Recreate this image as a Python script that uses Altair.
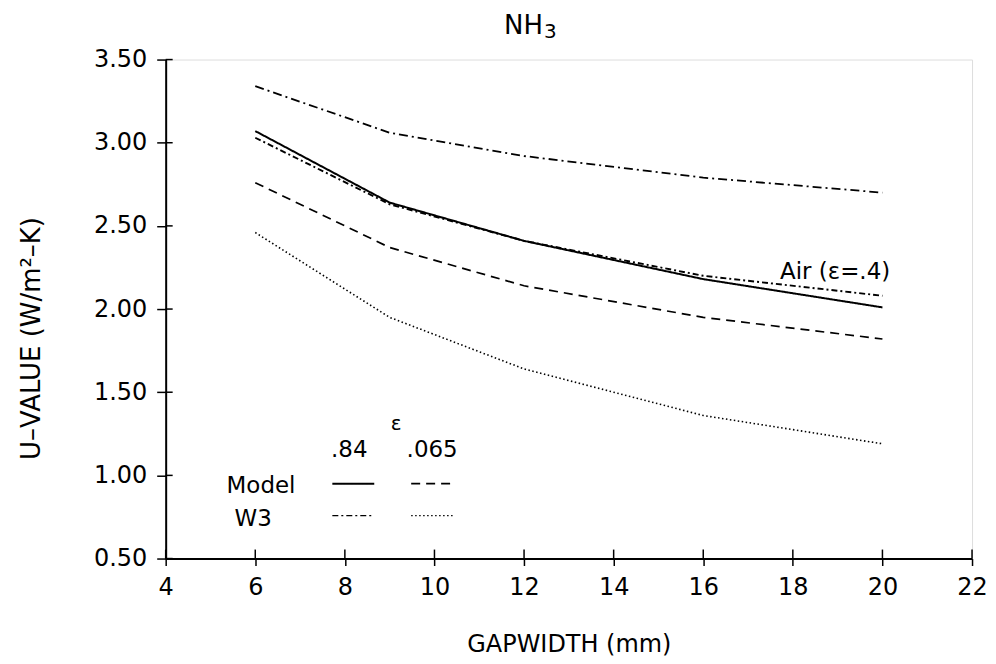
import altair as alt
import pandas as pd

# ---- data ----
gap = [6, 9, 12, 16, 20]
model_084 = [3.07, 2.64, 2.41, 2.18, 2.01]
w3_084 = [3.03, 2.63, 2.41, 2.20, 2.08]
upper_dashdot = [3.34, 3.06, 2.92, 2.79, 2.70]
model_0065 = [2.76, 2.37, 2.14, 1.95, 1.82]
w3_0065 = [2.46, 1.95, 1.64, 1.36, 1.19]

x_ticks = [4, 6, 8, 10, 12, 14, 16, 18, 20, 22]
y_ticks = [0.5, 1.0, 1.5, 2.0, 2.5, 3.0, 3.5]

series_names = ["Model .84", "W3 .84", "Air (ε=.4)", "Model .065", "W3 .065"]
series_values = [model_084, w3_084, upper_dashdot, model_0065, w3_0065]

rows = []
for name, vals in zip(series_names, series_values):
    for g, v in zip(gap, vals):
        rows.append({"gap": g, "u": v, "series": name})
df = pd.DataFrame(rows)

FONT = "DejaVu Sans"
W, H = 808, 500

dashes = [[1, 0], [6, 3, 2, 3], [9, 4, 2, 4], [9, 6], [1.5, 2.5]]
widths = [2.0, 1.6, 1.8, 2.0, 1.3]

x_scale = alt.Scale(domain=[4, 22], nice=False, zero=False)
y_scale = alt.Scale(domain=[0.5, 3.5], nice=False, zero=False)

lines = alt.Chart(df).mark_line(color="black").encode(
    x=alt.X("gap:Q", scale=x_scale,
            axis=alt.Axis(values=x_ticks, title="GAPWIDTH (mm)", format="d",
                          grid=False, tickSize=7, tickColor="black", tickWidth=1.5,
                          domainColor="black", domainWidth=2,
                          labelFont=FONT, labelFontSize=24, labelColor="black",
                          labelPadding=10, labelFlush=False,
                          titleFont=FONT, titleFontSize=24, titleFontWeight="normal",
                          titleColor="black", titleX=404, titleY=86,
                          titleBaseline="middle", titleAlign="center")),
    y=alt.Y("u:Q", scale=y_scale,
            axis=alt.Axis(values=y_ticks, title="U–VALUE (W/m²–K)", format=".2f",
                          grid=False, tickSize=9, tickColor="black", tickWidth=1.5,
                          domainColor="black", domainWidth=2,
                          labelFont=FONT, labelFontSize=24, labelColor="black",
                          labelPadding=10, labelFlush=False,
                          titleFont=FONT, titleFontSize=26, titleFontWeight="normal",
                          titleColor="black", titleAngle=270, titleX=-134, titleY=279,
                          titleBaseline="middle", titleAlign="center")),
    strokeDash=alt.StrokeDash("series:N", scale=alt.Scale(domain=series_names, range=dashes), legend=None),
    strokeWidth=alt.StrokeWidth("series:N", scale=alt.Scale(domain=series_names, range=widths), legend=None),
    detail="series:N",
)

# inner halves of the crossing ticks
xt = pd.DataFrame({"t": x_ticks})
yt = pd.DataFrame({"t": y_ticks})
x_inner = alt.Chart(xt).mark_rule(color="black", strokeWidth=1.5).encode(
    x=alt.X("t:Q", scale=x_scale), y=alt.value(H - 9), y2=alt.value(H))
y_inner = alt.Chart(yt).mark_rule(color="black", strokeWidth=1.5).encode(
    y=alt.Y("t:Q", scale=y_scale), x=alt.value(0), x2=alt.value(7))

one = pd.DataFrame({"k": [0]})


def label(txt, x, y, size=23, align="left", baseline="middle"):
    return alt.Chart(one).mark_text(font=FONT, fontSize=size, color="black",
                                    align=align, baseline=baseline).encode(
        x=alt.value(x), y=alt.value(y), text=alt.value(txt))


def sample(x1, x2, y, dash, width):
    return alt.Chart(one).mark_rule(color="black", strokeWidth=width, strokeDash=dash).encode(
        x=alt.value(x1), x2=alt.value(x2), y=alt.value(y))


texts = [
    label("NH", 339, -26, size=26, baseline="alphabetic"),
    label("3", 379, -28, size=20),
    label("ε", 231, 365, size=20, align="center"),
    label(".84", 184, 391, align="center"),
    label(".065", 267, 391, align="center"),
    label("Model", 61, 427),
    label("W3", 69, 460),
    label("Air (ε=.4)", 726, 213, align="right"),
]
samples = [
    sample(167, 209, 425, dashes[0], 2.0),
    sample(246, 289, 425, dashes[3], 1.8),
    sample(167, 209, 457, dashes[1], 1.4),
    sample(246, 289, 457, dashes[4], 1.2),
]

chart = alt.layer(lines, x_inner, y_inner, *texts, *samples).properties(
    width=W, height=H,
    autosize=alt.AutoSizeParams(type="none"),
    padding={"left": 158, "top": 51, "right": 16, "bottom": 104},
).configure_view(stroke="black", strokeWidth=2).configure(background="white")

chart.save("out.html", embed_options={"renderer": "svg", "actions": False})
